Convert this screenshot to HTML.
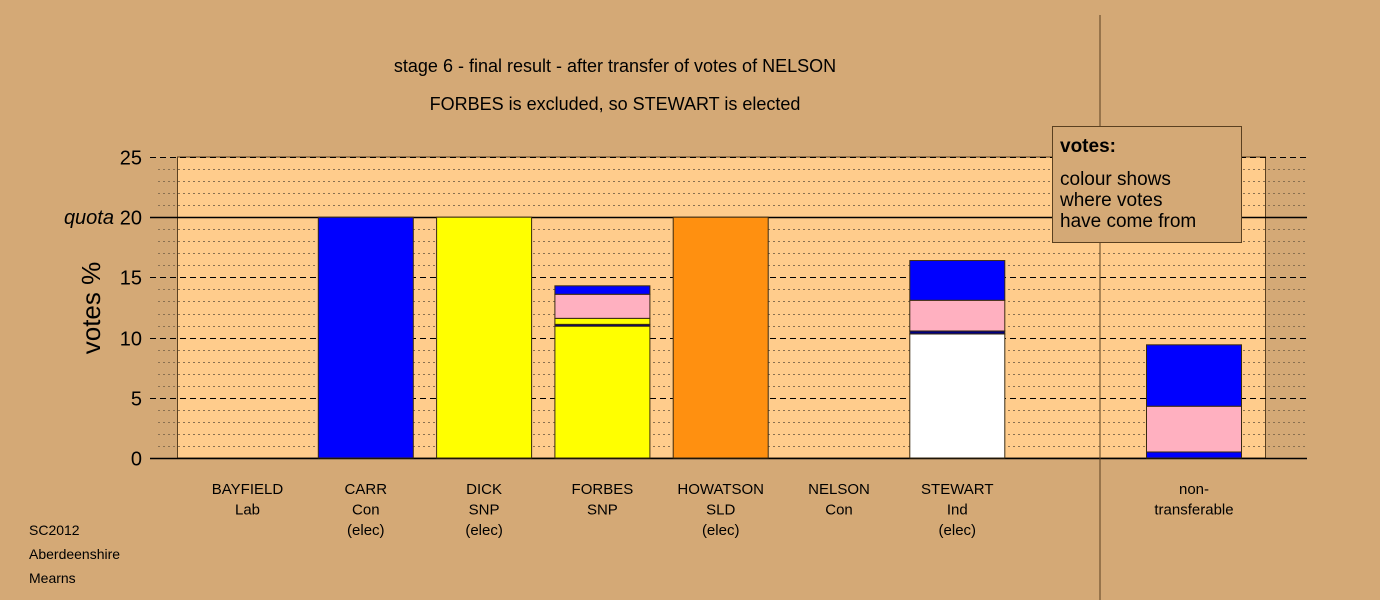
<!DOCTYPE html>
<html><head><meta charset="utf-8"><style>
body{margin:0;background:#D4A976;}
svg{display:block;font-family:"Liberation Sans",sans-serif;}
</style></head><body>
<svg id="chart" width="1380" height="600" viewBox="0 0 1380 600" xmlns="http://www.w3.org/2000/svg">
<rect x="0" y="0" width="1380" height="600" fill="#D4A976"/>
<g id="grid"></g>
<g id="bars"></g>
<g id="labels"></g>
<text x="615" y="72" font-size="18" text-anchor="middle">stage 6 - final result - after transfer of votes of NELSON</text>
<text x="615" y="110" font-size="18" text-anchor="middle">FORBES is excluded, so STEWART is elected</text>
<text transform="translate(100,308) rotate(-90)" font-size="26" text-anchor="middle">votes %</text>
<text x="29" y="535" font-size="14">SC2012</text>
<text x="29" y="559" font-size="14">Aberdeenshire</text>
<text x="29" y="583" font-size="14">Mearns</text>
<line x1="1100" y1="15" x2="1100" y2="600" stroke="#5a4020" stroke-width="1"/>
<g>
<rect x="1052.5" y="126.5" width="189" height="116" fill="#D4A976" stroke="#5a4020"/>
<text x="1060" y="152" font-size="19" font-weight="bold">votes:</text>
<text x="1060" y="185" font-size="19">colour shows</text>
<text x="1060" y="206" font-size="19">where votes</text>
<text x="1060" y="227" font-size="19">have come from</text>
</g>
</svg>
<script>
const candidates = ["BAYFIELD","CARR","DICK","FORBES","HOWATSON","NELSON","STEWART","non-"];
const parties = ["Lab","Con","SNP","SNP","SLD","Con","Ind","transferable"];
const status = ["","(elec)","(elec)","","(elec)","","(elec)",""];
const segColors = [
  [],
  ["#0000FF"],
  ["#FFFF00"],
  ["#FFFF00","#000080","#FFFF00","#FFB0C0","#0000FF"],
  ["#FF9010"],
  [],
  ["#FFFFFF","#000080","#FFB0C0","#0000FF"],
  ["#0000FF","#FFB0C0","#0000FF"]
];
const segValues = [
  [],
  [20],
  [20],
  [10.95,0.15,0.5,2.0,0.7],
  [20],
  [],
  [10.3,0.25,2.55,3.3],
  [0.5,3.8,5.1]
];
const yTicks = [0,5,10,15,20,25];
const quota = 20;

const NS="http://www.w3.org/2000/svg";
const y0=458, pxPerUnit=12.04;
function yScale(v){return y0 - v*pxPerUnit;}
function xCenter(i){return 247.5 + i*118.3;}
const barW=95;
function mk(tag,attrs,parent){const e=document.createElementNS(NS,tag);for(const k in attrs)e.setAttribute(k,attrs[k]);parent.appendChild(e);return e;}
const grid=document.getElementById('grid'), bars=document.getElementById('bars'), labels=document.getElementById('labels');

// plot area
const pa=mk('rect',{x:177.5,y:yScale(25),width:1088,height:yScale(0)-yScale(25),fill:'#FFCC8C',stroke:'#5a4020','stroke-width':1},grid);


for(let v=1;v<25;v++){
  if(v%5===0)continue;
  const l=mk('line',{x1:158,x2:1307,y1:Math.round(yScale(v))+0.5,y2:Math.round(yScale(v))+0.5,stroke:'#8a7050','stroke-width':1,'stroke-dasharray':'2,3'},grid);
  
  
}
yTicks.forEach(v=>{
  const y=Math.round(yScale(v))+0.5;
  const isQ=(v===quota), isZ=(v===0);
  const l=mk('line',{x1:150,x2:1307,y1:y,y2:y,stroke:'#000','stroke-width':(isQ||isZ)?1.5:1},grid);
  if(!isQ&&!isZ)l.setAttribute('stroke-dasharray','6,4');
  
  
  const t=mk('text',{x:142,y:y+7,'font-size':20,'text-anchor':'end'},labels);
  t.textContent=v;
  
  
});
const q=mk('text',{x:114,y:Math.round(yScale(quota))+7,'font-size':20,'text-anchor':'end','font-style':'italic'},labels);
q.textContent='quota';



candidates.forEach((c,i)=>{
  const cx=i===7?1194:xCenter(i);
  let acc=0;
  segValues[i].forEach((v,j)=>{
    const top=yScale(acc+v), bot=yScale(acc);
    const r=mk('rect',{x:cx-barW/2,y:top,width:barW,height:bot-top,fill:segColors[i][j],stroke:'#3a2a10','stroke-width':1},bars);
    
    
    acc+=v;
  });
  [c,parties[i],status[i]].forEach((s,k)=>{
    if(!s)return;
    const t=mk('text',{x:cx,y:494+k*20.5,'font-size':15,'text-anchor':'middle'},labels);
    t.textContent=s;
    
    
  });
});
</script>
</body></html>
